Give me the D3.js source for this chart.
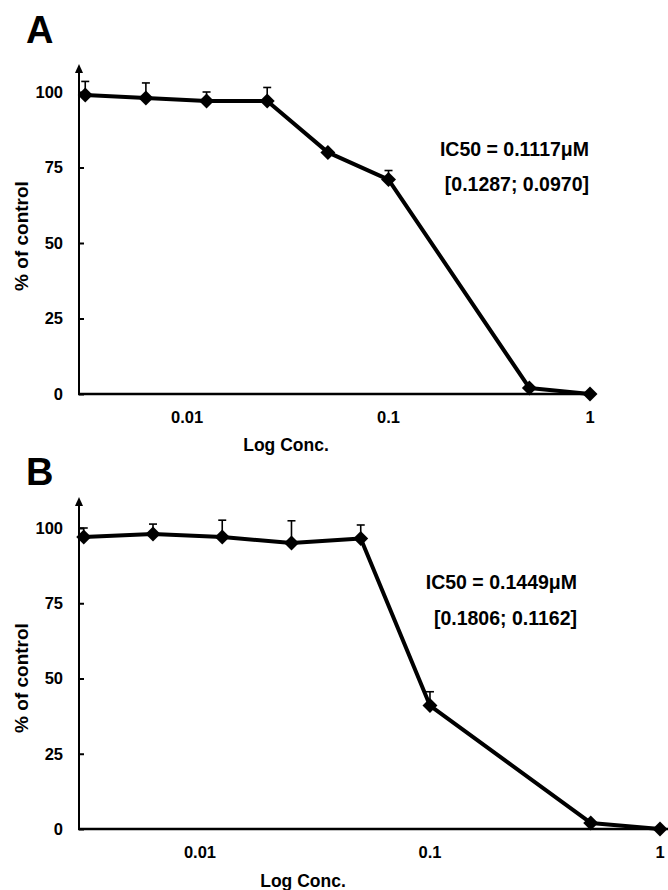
<!DOCTYPE html>
<html>
<head>
<meta charset="utf-8">
<script src="https://cdn.jsdelivr.net/npm/d3@7"></script>
<style>
  body { margin: 0; background: #fff; }
  svg text { font-family: "Liberation Sans", Arial, sans-serif; font-weight: bold; fill: #000; }
</style>
</head>
<body>
<svg id="chart" width="668" height="890"></svg>
<script>
// concentrations (µM), two-fold dilution series
const conc = [0.003125, 0.00625, 0.0125, 0.025, 0.05, 0.1, 0.5, 1];
const xTicks = [0.01, 0.1, 1];
const yTicks = [0, 25, 50, 75, 100];

const valuesA = [99, 98, 97, 97, 80, 71, 2, 0];
const errorsA = [4.5, 5, 3, 4.5, 0, 3, 0, 0];
const valuesB = [97, 98, 97, 95, 96.5, 41, 2, 0];
const errorsB = [3, 3.3, 5.6, 7.4, 4.5, 4.6, 0, 0];

const panels = [
    { letter: "A", values: valuesA, errors: errorsA,
      ic50: "IC50 = 0.1117μM", ci: "[0.1287; 0.0970]",
      x0: 79, x1: 590, xMin: 0.00291, axisEnd: 590,
      yBottom: 394, yTop: 92, arrowTop: 64,
      letterY: 43, tickY: 423, titleY: 451, titleX: 286, yLabelY: 236,
      textX: 589, icY: 156, ciY: 191 },
    { letter: "B", values: valuesB, errors: errorsB,
      ic50: "IC50 = 0.1449μM", ci: "[0.1806; 0.1162]",
      x0: 79, x1: 660, xMin: 0.00298, axisEnd: 668,
      yBottom: 829, yTop: 528, arrowTop: 497,
      letterY: 485, tickY: 858, titleY: 887, titleX: 303, yLabelY: 678,
      textX: 577, icY: 589, ciY: 625 }
];

const svg = d3.select("#chart");

panels.forEach(p => {
    const x = d3.scaleLog().domain([p.xMin, 1]).range([p.x0, p.x1]);
    const y = d3.scaleLinear().domain([0, 100]).range([p.yBottom, p.yTop]);
    const g = svg.append("g");

    g.append("text")
        .attr("x", 26)
        .attr("y", p.letterY)
        .style("font-size", "38px")
        .text(p.letter);

    // y axis with inward ticks
    const yAxis = g.append("g")
        .attr("transform", `translate(${p.x0},0)`)
        .call(d3.axisLeft(y).tickValues(yTicks).tickSize(-5).tickPadding(16));
    yAxis.select(".domain").remove();
    yAxis.selectAll(".tick line").attr("stroke-width", 2);
    yAxis.selectAll("text").style("font-size", "16.5px").attr("font-family", null);

    g.append("line")
        .attr("x1", p.x0).attr("x2", p.x0)
        .attr("y1", p.yBottom).attr("y2", p.arrowTop + 6)
        .attr("stroke", "#000").attr("stroke-width", 2);
    g.append("path")
        .attr("d", `M${p.x0 - 4},${p.arrowTop + 9}L${p.x0},${p.arrowTop}L${p.x0 + 4},${p.arrowTop + 9}Z`)
        .attr("fill", "#000");

    // x axis
    g.append("line")
        .attr("x1", p.x0 - 1).attr("x2", p.axisEnd)
        .attr("y1", p.yBottom).attr("y2", p.yBottom)
        .attr("stroke", "#000").attr("stroke-width", 2.5);
    g.selectAll(".xt")
        .data(xTicks)
        .join("text")
        .attr("x", d => x(d))
        .attr("y", p.tickY)
        .attr("text-anchor", "middle")
        .style("font-size", "16.5px")
        .text(d => d);

    g.append("text")
        .attr("x", p.titleX)
        .attr("y", p.titleY)
        .attr("text-anchor", "middle")
        .style("font-size", "17.5px")
        .text("Log Conc.");

    g.append("text")
        .attr("transform", `translate(28,${p.yLabelY}) rotate(-90)`)
        .attr("text-anchor", "middle")
        .style("font-size", "19px")
        .text("% of control");

    const pts = conc.map((c, i) => ({ c, v: p.values[i], e: p.errors[i] }));

    // error bars (upper only)
    const eb = g.append("g").attr("stroke", "#000").attr("stroke-width", 1.6);
    pts.filter(d => d.e > 0).forEach(d => {
        eb.append("line")
            .attr("x1", x(d.c)).attr("x2", x(d.c))
            .attr("y1", y(d.v)).attr("y2", y(d.v + d.e));
        eb.append("line")
            .attr("x1", x(d.c) - 4).attr("x2", x(d.c) + 4)
            .attr("y1", y(d.v + d.e)).attr("y2", y(d.v + d.e));
    });

    g.append("path")
        .datum(pts)
        .attr("fill", "none")
        .attr("stroke", "#000")
        .attr("stroke-width", 4)
        .attr("stroke-linejoin", "round")
        .attr("d", d3.line().x(d => x(d.c)).y(d => y(d.v)));

    g.selectAll(".mk")
        .data(pts)
        .join("path")
        .attr("transform", d => `translate(${x(d.c)},${y(d.v)}) rotate(45)`)
        .attr("d", d3.symbol(d3.symbolSquare, 112))
        .attr("fill", "#000");

    g.append("text")
        .attr("x", p.textX)
        .attr("y", p.icY)
        .attr("text-anchor", "end")
        .style("font-size", "19.5px")
        .text(p.ic50);
    g.append("text")
        .attr("x", p.textX)
        .attr("y", p.ciY)
        .attr("text-anchor", "end")
        .style("font-size", "19.5px")
        .text(p.ci);
});
</script>
</body>
</html>
